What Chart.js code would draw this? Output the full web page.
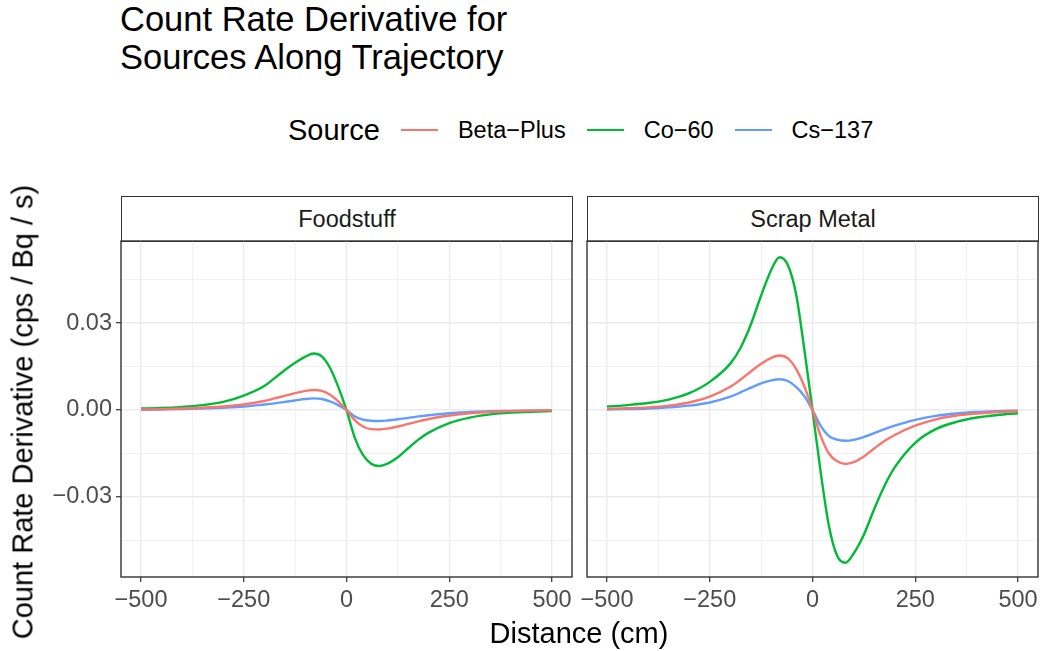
<!DOCTYPE html>
<html>
<head>
<meta charset="utf-8">
<script src="https://cdn.jsdelivr.net/npm/chart.js@4"></script>
<style>
  body { margin: 0; background: #fff; font-family: "Liberation Sans", Arial, sans-serif; }
  #wrap { position: relative; width: 1041px; height: 651px; overflow: hidden; }
  .abs { position: absolute; }
  #title { left: 120px; top: 0px; font-size: 34.5px; line-height: 38px; color: #000; white-space: nowrap; }
  #legend { left: 288px; top: 110px; height: 40px; display: flex; align-items: center; color: #000; white-space: nowrap; }
  #legend .lab { font-size: 29px; margin-right: 21px; }
  #legend .key { width: 37px; height: 2.6px; margin-right: 20px; }
  #legend .txt { font-size: 23.5px; margin-right: 21px; }
  .strip { top: 196px; height: 46px; border: 1.4px solid #333; box-sizing: border-box; background: #fff;
           display: flex; align-items: center; justify-content: center; font-size: 23.5px; color: #1a1a1a; }
  #ytitle { left: 23px; top: 412px; font-size: 29px; white-space: nowrap; transform: translate(-50%, -50%) rotate(-90deg); }
  #xtitle { left: 579px; top: 633px; font-size: 29px; white-space: nowrap; transform: translate(-50%, -50%); }
  canvas { position: absolute; }
</style>
</head>
<body>
<div id="wrap">
  <div id="title" class="abs">Count Rate Derivative for<br>Sources Along Trajectory</div>
  <div id="legend" class="abs"></div>
  <div class="strip abs" style="left:121px;width:452px;">Foodstuff</div>
  <div class="strip abs" style="left:587px;width:452px;">Scrap Metal</div>
  <canvas id="food" width="576" height="400" style="left:0px;top:236px;"></canvas>
  <canvas id="scrap" width="465" height="400" style="left:576px;top:236px;"></canvas>
  <div id="ytitle" class="abs">Count Rate Derivative (cps / Bq / s)</div>
  <div id="xtitle" class="abs">Distance (cm)</div>
</div>
<script>
// distance along trajectory (cm)
const distance = [-500, -450, -400, -350, -300, -250, -200, -175, -150, -125, -100, -80, -60, -40, -20, 0,
  20, 40, 60, 80, 100, 125, 150, 175, 200, 250, 300, 350, 400, 450, 500];

const sources = ['Beta\u2212Plus', 'Co\u221260', 'Cs\u2212137'];
const colors = ['#F8766D', '#00BA38', '#619CFF'];
const panels = ['Foodstuff', 'Scrap Metal'];

// values (cps / Bq / s)
const foodBeta = [0.0002, 0.0003, 0.0005, 0.0008, 0.0012, 0.0019, 0.0031, 0.0040, 0.0049, 0.0058, 0.0066, 0.0069, 0.0066, 0.0053, 0.0030, 0,
  -0.0035, -0.0057, -0.0066, -0.0067, -0.0064, -0.0057, -0.0048, -0.0039, -0.0031, -0.0019, -0.0011, -0.0007, -0.0004, -0.0002, -0.0001];
const foodCo = [0.0005, 0.0007, 0.0011, 0.0017, 0.0028, 0.0050, 0.0083, 0.0110, 0.0138, 0.0163, 0.0184, 0.0195, 0.0185, 0.0145, 0.0080, 0,
  -0.0095, -0.0155, -0.0185, -0.0193, -0.0185, -0.0163, -0.0132, -0.0102, -0.0078, -0.0045, -0.0026, -0.0015, -0.0009, -0.0006, -0.0004];
const foodCs = [0.0001, 0.0002, 0.0003, 0.0005, 0.0008, 0.0012, 0.0019, 0.0023, 0.0028, 0.0033, 0.0038, 0.0040, 0.0038, 0.0030, 0.0017, 0,
  -0.0022, -0.0033, -0.0037, -0.0038, -0.0036, -0.0032, -0.0027, -0.0022, -0.0018, -0.0011, -0.0007, -0.0004, -0.0003, -0.0002, -0.0001];

const scrapBeta = [0.0004, 0.0006, 0.0009, 0.0015, 0.0026, 0.0046, 0.0080, 0.0105, 0.0133, 0.0160, 0.0180, 0.0188, 0.0178, 0.0142, 0.0082, 0,
  -0.0090, -0.0150, -0.0177, -0.0186, -0.0180, -0.0160, -0.0133, -0.0107, -0.0086, -0.0054, -0.0032, -0.0019, -0.0012, -0.0007, -0.0004];
const scrapCo = [0.0012, 0.0017, 0.0024, 0.0036, 0.0058, 0.0097, 0.0160, 0.0215, 0.0295, 0.0395, 0.0485, 0.0527, 0.0500, 0.0400, 0.0210, 0,
  -0.0215, -0.0400, -0.0503, -0.0527, -0.0495, -0.0430, -0.0342, -0.0262, -0.0198, -0.0113, -0.0066, -0.0041, -0.0026, -0.0017, -0.0011];
const scrapCs = [0.0002, 0.0003, 0.0005, 0.0009, 0.0015, 0.0026, 0.0046, 0.0061, 0.0077, 0.0092, 0.0102, 0.0106, 0.0100, 0.0080, 0.0048, 0,
  -0.0055, -0.0090, -0.0102, -0.0106, -0.0103, -0.0093, -0.0080, -0.0066, -0.0054, -0.0034, -0.0020, -0.0012, -0.0007, -0.0004, -0.0002];

const xTicks = [-500, -375, -250, -125, 0, 125, 250, 375, 500];
const xLabels = [-500, -250, 0, 250, 500];
const yTicks = [-0.045, -0.03, -0.015, 0, 0.015, 0.03, 0.045];
const yLabels = [-0.03, 0, 0.03];

// legend
const legend = document.getElementById('legend');
legend.innerHTML = '<span class="lab">Source</span>' + sources.map((s, i) =>
  `<span class="key" style="background:${colors[i]}"></span><span class="txt">${s}</span>`).join('');

const minus = v => (Number(v) < 0 ? '\u2212' : '') + String(v).replace('-', '');
const isMajor = (v, list) => list.some(t => Math.abs(t - v) < 1e-9);

const borderPlugin = {
  id: 'panelBorder',
  afterDraw(chart) {
    const a = chart.chartArea, ctx = chart.ctx;
    ctx.save();
    ctx.strokeStyle = '#333333';
    ctx.lineWidth = 1.4;
    ctx.strokeRect(a.left, a.top, a.right - a.left, a.bottom - a.top);
    ctx.restore();
  }
};

function makePanel(id, series, showY) {
  const datasets = series.map((vals, i) => ({
    label: sources[i],
    data: distance.map((d, j) => ({ x: d, y: vals[j] })),
    borderColor: colors[i],
    borderWidth: 2.4,
    pointRadius: 0,
    cubicInterpolationMode: 'monotone',
    fill: false
  }));
  return new Chart(document.getElementById(id), {
    type: 'line',
    data: { datasets },
    plugins: [borderPlugin],
    options: {
      responsive: false,
      animation: false,
      devicePixelRatio: 1,
      layout: { padding: { top: 5, right: showY ? 4 : 3, left: showY ? 0 : 11, bottom: 0 } },
      plugins: { legend: { display: false }, tooltip: { enabled: false } },
      scales: {
        x: {
          type: 'linear',
          min: -548.7,
          max: 548.7,
          afterBuildTicks: s => { s.ticks = xTicks.map(v => ({ value: v })); },
          afterFit: s => { s.height = 59; s.paddingLeft = 0; s.paddingRight = 0; },
          border: { display: false },
          grid: {
            color: '#EBEBEB',
            lineWidth: c => isMajor(c.tick.value, xLabels) ? 1.4 : 0.7,
            tickColor: c => isMajor(c.tick.value, xLabels) ? '#333333' : 'rgba(0,0,0,0)',
            tickLength: 5,
            tickWidth: 1.2
          },
          ticks: {
            autoSkip: false,
            maxRotation: 0,
            padding: 4,
            color: '#4D4D4D',
            font: { family: 'Liberation Sans', size: 23.5 },
            callback: v => isMajor(v, xLabels) ? minus(v) : ''
          }
        },
        y: {
          min: -0.0576,
          max: 0.0583,
          afterBuildTicks: s => { s.ticks = yTicks.map(v => ({ value: v })); },
          afterFit: s => { s.width = showY ? 121 : 0; s.paddingTop = 0; s.paddingBottom = 0; },
          border: { display: false },
          grid: {
            color: '#EBEBEB',
            lineWidth: c => isMajor(c.tick.value, yLabels) ? 1.4 : 0.7,
            tickColor: c => isMajor(c.tick.value, yLabels) ? '#333333' : 'rgba(0,0,0,0)',
            tickLength: 5,
            tickWidth: 1.2,
            drawTicks: showY
          },
          ticks: {
            display: showY,
            autoSkip: false,
            padding: 4,
            color: '#4D4D4D',
            font: { family: 'Liberation Sans', size: 23.5 },
            callback: v => isMajor(v, yLabels) ? minus(Number(v).toFixed(2)) : ''
          }
        }
      }
    }
  });
}

makePanel('food', [foodBeta, foodCo, foodCs], true);
makePanel('scrap', [scrapBeta, scrapCo, scrapCs], false);
</script>
</body>
</html>
